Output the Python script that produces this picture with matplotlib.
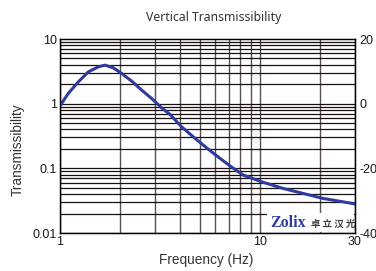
import matplotlib
matplotlib.use("Agg")
import matplotlib.pyplot as plt
from matplotlib.ticker import FixedLocator, NullLocator

freq = [1.0, 1.10, 1.235, 1.386, 1.555, 1.68, 1.849, 2.037, 2.286, 2.565, 2.878, 3.23,
        3.556, 4.066, 4.65, 5.22, 6.09, 7.10, 8.28, 8.94, 10.23, 13.1, 16.5, 20.8, 26.2, 30.0]
trans = [0.925, 1.44, 2.17, 3.10, 3.71, 3.94, 3.58, 2.93, 2.23, 1.62, 1.20, 0.861,
         0.681, 0.438, 0.307, 0.228, 0.156, 0.109, 0.0784, 0.0722, 0.0618, 0.0489, 0.0409,
         0.0342, 0.0303, 0.0281]

x_ticks = [1, 10, 30]
x_labels = ["1", "10", "30"]
y_ticks = [0.01, 0.1, 1, 10]
y_labels = ["0.01", "0.1", "1", "10"]
db_ticks = [-40, -20, 0, 20]
db_labels = ["-40", "-20", "0", "20"]
vgrid = [1, 2, 3, 4, 5, 6, 7, 8, 9, 10, 20, 30]

plt.rcParams['font.family'] = ['Liberation Sans', 'DejaVu Sans']

fig = plt.figure(figsize=(3.76, 2.71), dpi=100)
ax = fig.add_axes([60/376, 1-233/271, 295/376, 194/271])
ax.set_xscale('log')
ax.set_yscale('log')
ax.set_xlim(1, 30)
ax.set_ylim(0.01, 10)

for v in vgrid:
    ax.axvline(v, color='#5a5050', lw=1.0, zorder=1)
for dec in [0.01, 0.1, 1]:
    for k in range(1, 10):
        ax.axhline(dec*k, color='#1a1010', lw=0.9, zorder=1)

ax.plot(freq, trans, color='#2f3c9c', lw=2.2, zorder=3,
        solid_capstyle='round', solid_joinstyle='round')

# logo box
ax.add_patch(plt.Rectangle((267/376, 1-232/271), 87/376, 19/271, transform=fig.transFigure,
                           facecolor='white', edgecolor='none', zorder=4))
fig.text(270/376, 1-223/271, "Zolix", family='Liberation Serif', weight='bold', fontsize=11.5,
         color='#2f3c9c', va='center', ha='left', zorder=5)
fig.text(311/376, 1-223.5/271, "卓 立 汉 光", family=['Noto Sans CJK SC'], fontsize=6.8,
         weight='bold', color='#3a3a3a', va='center', ha='left', zorder=5)

ax.xaxis.set_major_locator(FixedLocator(x_ticks))
ax.set_xticklabels(x_labels)
ax.xaxis.set_minor_locator(NullLocator())
ax.yaxis.set_major_locator(FixedLocator(y_ticks))
ax.set_yticklabels(y_labels)
ax.yaxis.set_minor_locator(NullLocator())
ax.tick_params(axis='both', labelsize=9, length=0, pad=2, colors='#1a1a1a')
for s in ax.spines.values():
    s.set_color('#111111'); s.set_linewidth(1.0)

ax2 = ax.twinx()
ax2.set_ylim(-40, 20)
ax2.set_yticks(db_ticks)
ax2.set_yticklabels(db_labels)
ax2.tick_params(axis='y', labelsize=9, length=0, pad=3, colors='#1a1a1a')

fig.text(206/376, 1-260/271, "Frequency (Hz)", fontsize=9.8, ha='center', va='center', color='#333333')
fig.text(18/376, 1-150/271, "Transmissibility", fontsize=9.8, ha='center', va='center',
         rotation=90, color='#333333')
fig.text(214/376, 1-17/271, "Vertical Transmissibility", fontsize=8.8, ha='center', va='center',
         color='#333333', family=['Noto Sans', 'DejaVu Sans'])

fig.savefig("out.png", dpi=100)
